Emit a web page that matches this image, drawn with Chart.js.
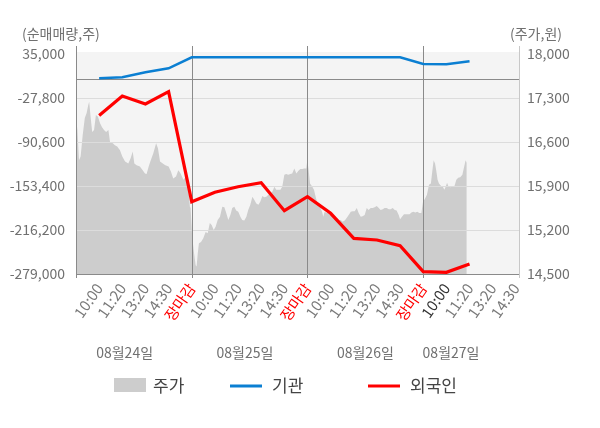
<!DOCTYPE html>
<html>
<head>
<meta charset="utf-8">
<script src="https://cdn.jsdelivr.net/npm/chart.js@4.4.1/dist/chart.umd.min.js"></script>
<style>html,body{margin:0;padding:0;background:#fff}</style>
</head>
<body>
<canvas id="chart" width="600" height="428"></canvas>
<script>
const FONT = "'Noto Sans CJK KR', 'Noto Sans', sans-serif";
const C = { price:'#cdcdcd', inst:'#0b7fd2', frgn:'#ff0000', bg:'#f4f4f4', grid:'#dcdcdc', dark:'#8a8a8a', edge:'#c8c8c8', text:'#707070', legend:'#444' };

// ── 데이터 ─────────────────────────────────────────────
const xLabels = ['10:00','11:20','13:20','14:30','장마감',
                 '10:00','11:20','13:20','14:30','장마감',
                 '10:00','11:20','13:20','14:30','장마감',
                 '10:00','11:20','13:20','14:30'];
const labelSlots = [1,2,3,4,5,6,7,8,9,10,11,12,13,14,15,16,17,18,19];
const dayEdges = [0,5,10,15];
const dates  = ['08월24일','08월25일','08월26일','08월27일'];
const dateAt = [2.1, 7.3, 12.5, 16.2];

const qtyTicks   = [35000,-27800,-90600,-153400,-216200,-279000];
const priceTicks = [18000,17300,16600,15900,15200,14500];

const flowSlots = [1,2,3,4,5,6,7,8,9,10,11,12,13,14,15,16,17];
const inst = [500,1700,8900,14600,30300,30300,30300,30300,30300,30300,30300,30300,30300,30300,20700,20300,24600];
const frgn = [-52800,-25000,-36400,-18800,-175800,-162400,-154400,-148700,-188700,-168700,-192400,-228100,-230500,-238600,-275700,-276600,-264700];

const priceX = [
  0.00,0.06,0.13,0.20,0.29,0.38,0.46,0.53,0.57,0.63,0.70,0.78,0.86,0.95,1.04,1.12,1.21,1.30,1.40,1.47,
  1.59,1.68,1.78,1.90,2.00,2.12,2.26,2.36,2.45,2.52,2.62,2.76,2.88,2.98,3.05,3.14,3.23,3.34,3.46,3.54,
  3.63,3.75,3.86,4.00,4.10,4.20,4.32,4.42,4.52,4.64,4.75,4.85,4.92,
  4.95,5.02,5.10,5.17,5.21,5.26,5.31,5.40,5.50,5.60,5.69,5.78,5.86,5.95,6.03,6.12,6.22,6.32,6.41,6.49,
  6.58,6.67,6.75,6.84,6.92,7.01,7.10,7.18,7.27,7.36,7.44,7.53,7.62,7.70,7.79,7.88,7.96,8.05,8.13,8.22,
  8.31,8.39,8.48,8.57,8.65,8.74,8.83,8.91,9.00,9.08,9.17,9.26,9.34,9.43,9.52,9.60,9.69,9.78,9.86,9.95,
  9.99,10.05,10.11,10.19,10.28,10.37,10.45,10.54,10.63,10.68,10.74,10.83,10.92,11.00,11.09,11.18,11.26,11.35,11.43,11.52,
  11.61,11.69,11.78,11.87,11.95,12.04,12.13,12.21,12.30,12.38,12.47,12.56,12.64,12.73,12.82,12.90,12.99,13.08,13.16,13.25,
  13.33,13.42,13.51,13.59,13.68,13.77,13.85,13.94,14.00,14.08,14.17,14.29,14.41,14.49,14.57,14.66,14.74,14.83,14.92,
  14.99,15.08,15.16,15.25,15.33,15.39,15.45,15.51,15.56,15.62,15.68,15.77,15.85,15.91,15.97,16.03,16.08,16.17,16.26,16.34,
  16.43,16.51,16.60,16.69,16.77,16.83,16.88
];
const price = [
  16980,16790,16310,16370,16710,16980,17060,17190,17240,17000,16760,16790,17030,17000,16900,16840,16790,16760,16790,16600,
  16580,16550,16530,16470,16370,16290,16260,16340,16450,16260,16230,16210,16150,16100,16090,16210,16310,16420,16580,16500,
  16290,16260,16230,16210,16130,16020,16050,16150,16100,16000,16050,15890,15570,
  15550,15090,14830,14640,14620,14830,14990,15010,15070,15170,15150,15310,15280,15200,15250,15360,15410,15570,15560,15470,
  15360,15440,15550,15570,15510,15490,15410,15360,15350,15410,15520,15600,15730,15680,15620,15600,15650,15740,15720,15730,
  15760,15780,15810,15890,15840,15840,15840,15890,16080,16090,16080,16090,16100,16180,16100,16140,16170,16170,16180,16180,
  16310,16150,15940,15900,15840,15700,15610,15570,15490,15410,15490,15470,15490,15440,15440,15390,15390,15360,15360,15330,
  15350,15390,15440,15490,15500,15500,15550,15470,15410,15420,15440,15550,15520,15550,15550,15560,15580,15550,15520,15530,
  15550,15550,15530,15530,15550,15520,15510,15440,15370,15410,15450,15450,15450,15480,15490,15480,15490,15470,15470,
  15650,15700,15760,15920,15940,16130,16310,16260,16150,16000,15940,15900,15890,15840,15890,15950,15900,15880,15890,15890,
  16000,16030,16040,16080,16210,16310,16270
];

// ── 프레임 / 범례 ───────────────────────────────────────
function seg(ctx, x1, y1, x2, y2, color, w) {
  ctx.beginPath(); ctx.strokeStyle = color; ctx.lineWidth = w || 1;
  ctx.moveTo(x1, y1); ctx.lineTo(x2, y2); ctx.stroke();
}

const frame = {
  id:'frame',
  beforeDatasetsDraw(chart) {
    const { ctx, chartArea:a } = chart;
    ctx.save();
    ctx.fillStyle = C.bg;
    ctx.fillRect(a.left, a.top, a.right - a.left, a.bottom - a.top);
    ctx.restore();
  },
  afterDatasetDraw(chart, args) {
    if (args.index !== 0) return;
    const { ctx, chartArea:a, scales:{ x, y } } = chart;
    ctx.save();
    qtyTicks.slice(1, -1).forEach(v => {
      const py = Math.round(y.getPixelForValue(v)) + 0.5;
      seg(ctx, a.left, py, a.right, py, C.grid);
    });
    const zy = Math.round(y.getPixelForValue(0)) + 0.5;
    seg(ctx, a.left, zy, a.right, zy, C.dark);
    const by = Math.round(a.bottom) + 0.5;
    seg(ctx, a.left, by, a.right, by, C.dark);
    dayEdges.forEach(v => {
      const px = Math.round(x.getPixelForValue(v)) + 0.5;
      seg(ctx, px, a.top - 6, px, a.bottom + 4, C.dark);
    });
    const rx = Math.round(a.right) - 0.5;
    seg(ctx, rx, a.top - 6, rx, a.bottom + 4, C.edge);
    ctx.restore();
  },
  afterDraw(chart) {
    const { ctx, scales:{ x } } = chart;
    ctx.save();
    ctx.textBaseline = 'middle';
    ctx.font = `14px ${FONT}`;
    ctx.fillStyle = C.text;
    ctx.textAlign = 'left';
    ctx.fillText('(순매매량,주)', 22, 34);
    ctx.textAlign = 'right';
    ctx.fillText('(주가,원)', 562, 34);

    ctx.textAlign = 'center';
    dates.forEach((d, i) => ctx.fillText(d, x.getPixelForValue(dateAt[i]), 353));

    // 범례
    const ds = chart.data.datasets;
    const items = [{ x:114, tx:153 }, { x:230, tx:272 }, { x:368, tx:410 }];
    ctx.font = `17px ${FONT}`;
    ctx.textAlign = 'left';
    items.forEach((it, i) => {
      const d = ds[i];
      if (d.fill) { ctx.fillStyle = d.backgroundColor; ctx.fillRect(it.x, 378, 32, 14); }
      else seg(ctx, it.x, 386, it.x + 32, 386, d.borderColor, 3);
      ctx.fillStyle = C.legend;
      ctx.fillText(d.label, it.tx, 386);
    });
    ctx.restore();
  }
};

// ── 차트 ────────────────────────────────────────────────
const closeIdx = xLabels.lastIndexOf('장마감') + 1;

new Chart(document.getElementById('chart'), {
  type:'line',
  data:{ datasets:[
    { label:'주가', yAxisID:'y2', data:priceX.map((v, i) => ({ x:v, y:price[i] })),
      fill:'start', backgroundColor:C.price, borderColor:C.price, borderWidth:0, pointRadius:0, tension:0, order:3 },
    { label:'기관', yAxisID:'y', data:flowSlots.map((v, i) => ({ x:v, y:inst[i] })),
      fill:false, borderColor:C.inst, borderWidth:2.5, pointRadius:0, tension:0, order:2 },
    { label:'외국인', yAxisID:'y', data:flowSlots.map((v, i) => ({ x:v, y:frgn[i] })),
      fill:false, borderColor:C.frgn, borderWidth:3.2, pointRadius:0, tension:0, order:1 }
  ]},
  options:{
    responsive:false, animation:false,
    layout:{ padding:{ top:52, left:0, right:0, bottom:0 } },
    plugins:{ legend:{ display:false }, tooltip:{ enabled:false } },
    scales:{
      x:{ type:'linear', min:0, max:19.18,
        grid:{ display:false, drawTicks:false }, border:{ display:false },
        afterBuildTicks:s => { s.ticks = labelSlots.map(v => ({ value:v })); },
        afterFit:s => { s.height = 154; },
        ticks:{ autoSkip:false, minRotation:55, maxRotation:55, padding:6,
          font:{ family:FONT, size:15 },
          color:c => xLabels[c.index] === '장마감' ? '#ff0000' : (c.index === closeIdx ? '#333' : '#7a7a7a'),
          callback:(v, i) => xLabels[i] } },
      y:{ position:'left', min:-279000, max:37854,
        grid:{ display:false, drawTicks:false }, border:{ display:false },
        afterBuildTicks:s => { s.ticks = qtyTicks.map(v => ({ value:v })); },
        afterFit:s => { s.width = 76; },
        ticks:{ padding:11, font:{ family:FONT, size:14 }, color:C.text, callback:v => v.toLocaleString('en-US') } },
      y2:{ position:'right', min:14500, max:18032,
        grid:{ display:false, drawTicks:false }, border:{ display:false },
        afterBuildTicks:s => { s.ticks = priceTicks.map(v => ({ value:v })); },
        afterFit:s => { s.width = 80; },
        ticks:{ padding:7, font:{ family:FONT, size:14 }, color:C.text, callback:v => v.toLocaleString('en-US') } }
    }
  },
  plugins:[frame]
});
</script>
</body>
</html>
